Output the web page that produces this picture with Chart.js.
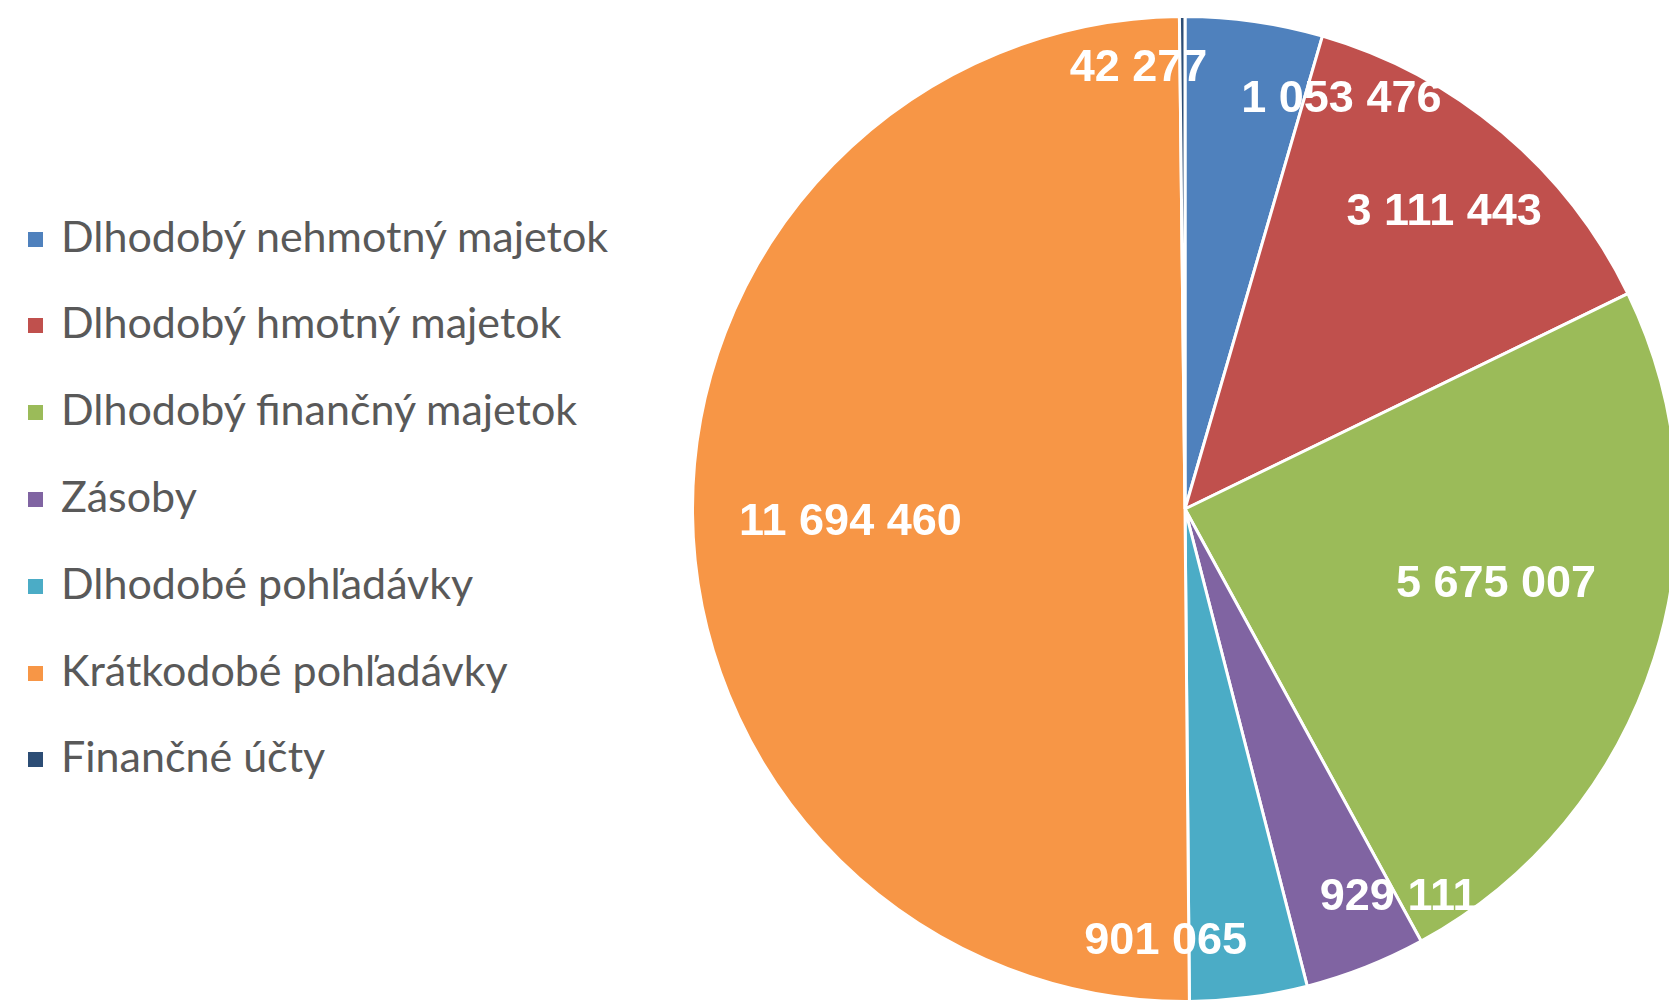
<!DOCTYPE html>
<html>
<head>
<meta charset="utf-8">
<script src="https://cdn.jsdelivr.net/npm/chart.js@4"></script>
<style>
  html, body { margin: 0; padding: 0; background: #fff; overflow: hidden; }
  body { width: 1669px; height: 1002px; position: relative; }
  #legend { position: absolute; left: 28px; top: 0; margin: 0; padding: 0; list-style: none;
            font-family: Lato, sans-serif; font-size: 43px; color: #595959; }
  #legend li { position: absolute; left: 0; white-space: nowrap; display: flex; align-items: center; height: 44px; }
  #legend li span.box { width: 15px; height: 15px; margin-right: 18px; display: inline-block; position: relative; top: 4px; }
  #wrap { position: absolute; left: 691px; top: 15px; width: 988px; height: 988px; }
</style>
</head>
<body>
<ul id="legend"></ul>
<div id="wrap"><canvas id="pie" width="988" height="988"></canvas></div>
<script>
const categories = [
    "Dlhodobý nehmotný majetok",
    "Dlhodobý hmotný majetok",
    "Dlhodobý finančný majetok",
    "Zásoby",
    "Dlhodobé pohľadávky",
    "Krátkodobé pohľadávky",
    "Finančné účty"
];
const values = [1053476, 3111443, 5675007, 929111, 901065, 11694460, 42277];

const colors = ["#4F81BD", "#C0504D", "#9BBB59", "#8064A2", "#4BACC6", "#F79646", "#2C4D75"];

// where each value label sits: [fraction of radius, angle shift in degrees]
const labelPlace = [[0.89, 12.8], [0.80, 1], [0.65, -4], [0.90, -7.3], [0.88, 10], [0.68, -1.8], [0.90, -5.7]];

function fmt(v) {
    return String(v).replace(/\B(?=(\d{3})+(?!\d))/g, " ");
}

// legend on the left
const legend = document.getElementById("legend");
categories.forEach((name, i) => {
    const li = document.createElement("li");
    li.style.top = (213 + i * 86.8) + "px";
    li.innerHTML = `<span class="box" style="background:${colors[i]}"></span>${name}`;
    legend.appendChild(li);
});

const sliceLabels = {
    id: "sliceLabels",
    afterDatasetsDraw(chart) {
        const ctx = chart.ctx;
        const meta = chart.getDatasetMeta(0);
        ctx.save();
        ctx.font = 'bold 45px "Liberation Sans"';
        ctx.fillStyle = "#fff";
        ctx.textAlign = "center";
        ctx.textBaseline = "middle";
        meta.data.forEach((arc, i) => {
            const p = arc.getProps(["x", "y", "startAngle", "endAngle", "outerRadius"], true);
            const rf = labelPlace[i][0];
            const a = (p.startAngle + p.endAngle) / 2 + labelPlace[i][1] * Math.PI / 180;
            ctx.fillText(fmt(values[i]), p.x + Math.cos(a) * p.outerRadius * rf, p.y + Math.sin(a) * p.outerRadius * rf);
        });
        ctx.restore();
    }
};

const ctx = document.getElementById("pie").getContext("2d");
const pieChart = new Chart(ctx, {
    type: "pie",
    data: {
        labels: categories,
        datasets: [{
            data: values,
            backgroundColor: colors,
            borderColor: "#fff",
            borderWidth: 3
        }]
    },
    options: {
        responsive: false,
        animation: false,
        layout: { padding: 0 },
        plugins: {
            legend: { display: false },
            tooltip: { enabled: false }
        }
    },
    plugins: [sliceLabels]
});
</script>
</body>
</html>
